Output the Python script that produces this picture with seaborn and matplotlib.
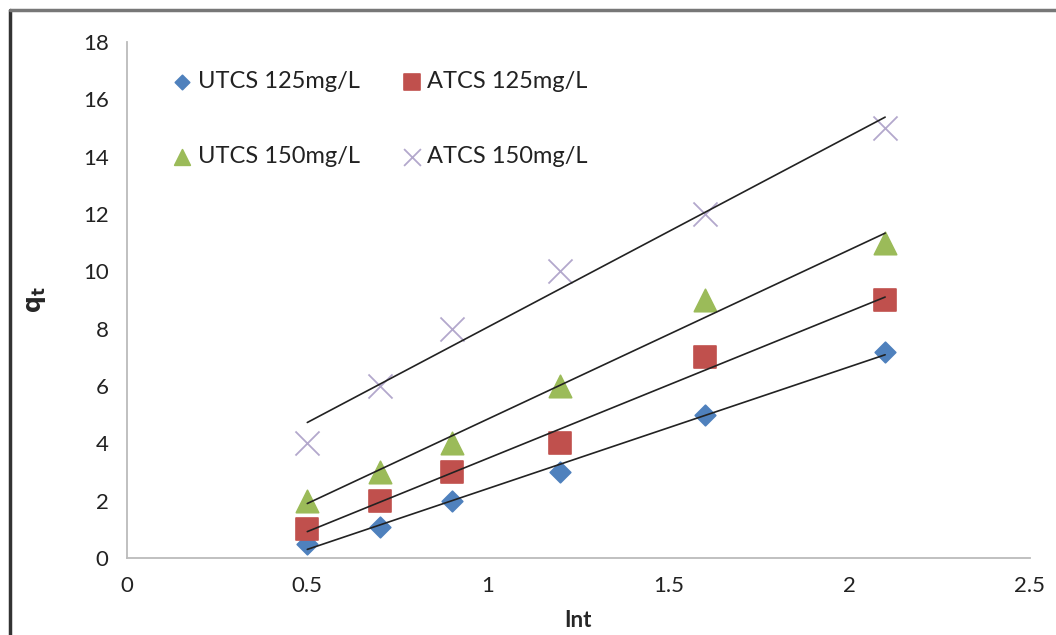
import numpy as np
import pandas as pd
import matplotlib
matplotlib.use("Agg")
import matplotlib.pyplot as plt
import seaborn as sns
from matplotlib.lines import Line2D

sns.set_theme(style="white")
plt.rcParams['font.family'] = ['Lato', 'DejaVu Sans']

x_vals = [0.5, 0.7, 0.9, 1.2, 1.6, 2.1]
utcs_125 = [0.5, 1.1, 2.0, 3.0, 5.0, 7.2]
atcs_125 = [1.0, 2.0, 3.0, 4.0, 7.0, 9.0]
utcs_150 = [2.0, 3.0, 4.0, 6.0, 9.0, 11.0]
atcs_150 = [4.0, 6.0, 8.0, 10.0, 12.0, 15.0]
series_names = ["UTCS 125mg/L", "ATCS 125mg/L", "UTCS 150mg/L", "ATCS 150mg/L"]
x_ticks = [0, 0.5, 1, 1.5, 2, 2.5]
y_ticks = list(range(0, 19, 2))

rows = []
for name, ys in zip(series_names, [utcs_125, atcs_125, utcs_150, atcs_150]):
    for xv, yv in zip(x_vals, ys):
        rows.append({"x": xv, "y": yv, "series": name})
df = pd.DataFrame(rows)

colors = {"UTCS 125mg/L": "#4F81BD", "ATCS 125mg/L": "#C0504D",
          "UTCS 150mg/L": "#9BBB59", "ATCS 150mg/L": "#B3A8CC"}
markers = {"UTCS 125mg/L": "D", "ATCS 125mg/L": "s",
           "UTCS 150mg/L": "^", "ATCS 150mg/L": "x"}
sizes = {"UTCS 125mg/L": 110, "ATCS 125mg/L": 260,
         "UTCS 150mg/L": 260, "ATCS 150mg/L": 300}

fig = plt.figure(figsize=(10.56, 6.35), dpi=100)
ax = fig.add_axes([0.120, 0.121, 0.855, 0.813])

for name in series_names:
    sub = df[df.series == name]
    ax.scatter(sub.x, sub.y, marker=markers[name], s=sizes[name],
               color=colors[name], linewidths=1.2 if name != "ATCS 150mg/L" else 1.3,
               zorder=2, label=name)
    sns.regplot(data=sub, x="x", y="y", scatter=False, ci=None, ax=ax,
                color="#222222", line_kws={"lw": 1.2, "zorder": 3})

ax.set_xlim(0, 2.5)
ax.set_ylim(0, 18)
ax.set_xticks(x_ticks)
ax.set_xticklabels(["0", "0.5", "1", "1.5", "2", "2.5"])
ax.set_yticks(y_ticks)
ax.tick_params(axis="both", labelsize=16, length=5,
               width=1.2, direction="out", pad=8)
ax.tick_params(axis="x", colors="#bbbbbb", labelcolor="#222222")
ax.tick_params(axis="y", colors="#bbbbbb", labelcolor="#222222")
for side in ["top", "right"]:
    ax.spines[side].set_visible(False)
for side in ["left", "bottom"]:
    ax.spines[side].set_color("#bbbbbb")
    ax.spines[side].set_linewidth(1.3)

ax.set_xlabel("Int", fontsize=16, fontweight="bold", labelpad=0)
ax.xaxis.set_label_coords(0.50, -0.10)
ax.set_ylabel("$\\mathbf{q_t}$", fontsize=17, fontweight="bold", labelpad=0)
ax.yaxis.set_label_coords(-0.087, 0.5)

handles, labels = ax.get_legend_handles_labels()
order = [0, 2, 1, 3]
leg = ax.legend([handles[i] for i in order], [labels[i] for i in order],
                ncol=2, frameon=False, loc="upper left",
                bbox_to_anchor=(0.025, 0.985), fontsize=17, labelspacing=2.3,
                columnspacing=1.7, handletextpad=0.15, handlelength=1.0,
                markerscale=0.7)
for t in leg.get_texts():
    t.set_color("#222222")

# outer chart border (left and top edges visible)
fig.add_artist(Line2D([0.009, 0.009], [0.0, 0.984], transform=fig.transFigure,
                      color="#333333", lw=2.5))
fig.add_artist(Line2D([0.009, 1.0], [0.984, 0.984], transform=fig.transFigure,
                      color="#777777", lw=2.5))

fig.savefig("out.png", dpi=100)
